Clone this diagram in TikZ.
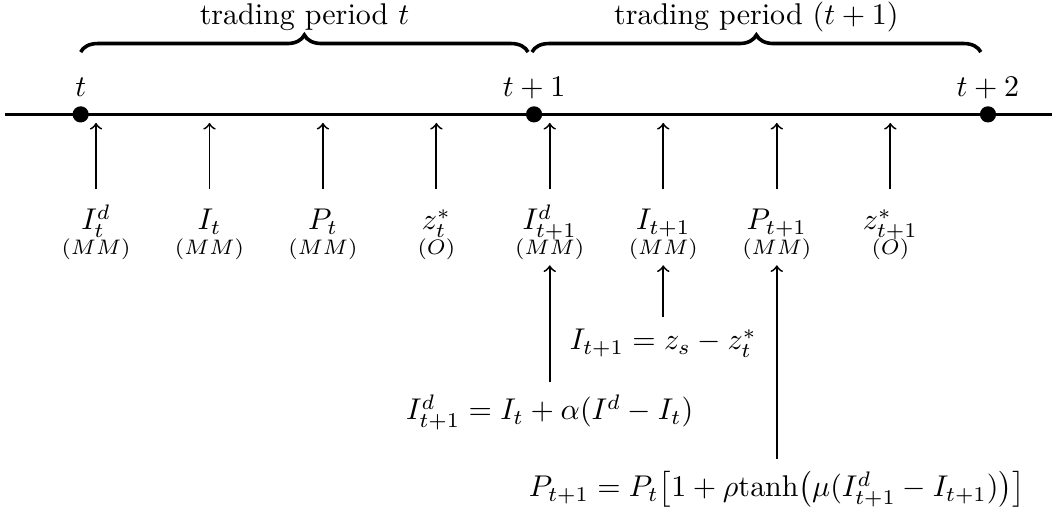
\documentclass[tikz,border=0pt]{standalone}
\usepackage{amsmath,amssymb}
\usetikzlibrary{decorations.pathreplacing}

\begin{document}
\begin{tikzpicture}[
        point/.style = {circle, fill, inner sep=0pt, minimum size=0.19cm},
        tick/.style = {anchor=base},
        var/.style = {anchor=base, text height=10pt},
        who/.style = {anchor=base, font=\scriptsize, inner sep=1.5pt},
        eq/.style = {anchor=base, inner sep=4pt},
        up/.style = {->, semithick},
        period/.style = {decorate, decoration={brace, amplitude=0.2cm}, line width=1.2pt},
    ]
        \useasboundingbox (0,0) rectangle (12.324,-5.998);

        % Time axis
        \coordinate (ax0) at (0.06,-1.34);
        \coordinate (ax1) at (12.324,-1.34);
        \coordinate (tip) at (0,-1.44);
        \draw[line width=0.9pt] (ax0) -- (ax1);

        % Time points on the axis
        \node[point] (t0) at (0.945,-1.34) {};
        \node[point] (t1) at (6.256,-1.34) {};
        \node[point] (t2) at (11.574,-1.34) {};
        \node[tick] (lt0) at (0.945,-1.13) {$t$};
        \node[tick] (lt1) at (6.256,-1.13) {$t+1$};
        \node[tick] (lt2) at (11.574,-1.13) {$t+2$};

        % Trading periods
        \draw[period] ([shift={(0,0.73)}]t0.center) -- ([shift={(-0.07,0.73)}]t1.center);
        \draw[period] ([shift={(-0.024,0.73)}]t1.center) -- ([shift={(-0.084,0.73)}]t2.center);
        \node (per0) at (3.567,-0.2) {trading period $t$};
        \node (per1) at (8.86,-0.2) {trading period $(t+1)$};

        % Variables set during period t
        \node[var] (Id0) at (1.125,-2.694) {$I^d_t$};
        \node[var] (I0) at (2.454,-2.694) {$I_t$};
        \node[var] (P0) at (3.783,-2.694) {$P_t$};
        \node[var] (z0) at (5.112,-2.694) {$z^*_t$};
        \node[who] (Id0w) at (1.125,-2.987) {$(MM)$};
        \node[who] (I0w) at (2.454,-2.987) {$(MM)$};
        \node[who] (P0w) at (3.783,-2.987) {$(MM)$};
        \node[who] (z0w) at (5.112,-2.987) {$(O)$};

        % Variables set during period t+1
        \node[var] (Id1) at (6.44,-2.694) {$I^d_{t+1}$};
        \node[var] (I1) at (7.77,-2.694) {$I_{t+1}$};
        \node[var] (P1) at (9.10,-2.694) {$P_{t+1}$};
        \node[var] (z1) at (10.43,-2.694) {$z^*_{t+1}$};
        \node[who] (Id1w) at (6.44,-2.987) {$(MM)$};
        \node[who] (I1w) at (7.77,-2.987) {$(MM)$};
        \node[who] (P1w) at (9.10,-2.987) {$(MM)$};
        \node[who] (z1w) at (10.43,-2.987) {$(O)$};

        % Arrows up to the axis
        \draw[up] (Id0.north) -- (Id0.north |- tip);
        \draw[up] (I0.north) -- (I0.north |- tip);
        \draw[up] (P0.north) -- (P0.north |- tip);
        \draw[up] (z0.north) -- (z0.north |- tip);
        \draw[up] (Id1.north) -- (Id1.north |- tip);
        \draw[up] (I1.north) -- (I1.north |- tip);
        \draw[up] (P1.north) -- (P1.north |- tip);
        \draw[up] (z1.north) -- (z1.north |- tip);

        % Update rules
        \node[eq] (eqI) at (7.77,-4.10) {$I_{t+1} = z_s - z^*_t$};
        \node[eq] (eqId) at (6.44,-4.92) {$I^d_{t+1} = I_t + \alpha(I^d - I_t)$};
        \node[eq] (eqP) at (9.10,-5.822) {$P_{t+1} = P_t\bigl[1 + \rho\mathrm{tanh}\bigl(\mu(I^d_{t+1} - I_{t+1})\bigr)\bigr]$};

        \draw[up] (eqId.north -| Id1w) -- (Id1w.south);
        \draw[up] (eqI.north -| I1w) -- (I1w.south);
        \draw[up] (eqP.north -| P1w) -- (P1w.south);
    \end{tikzpicture}
\end{document}
